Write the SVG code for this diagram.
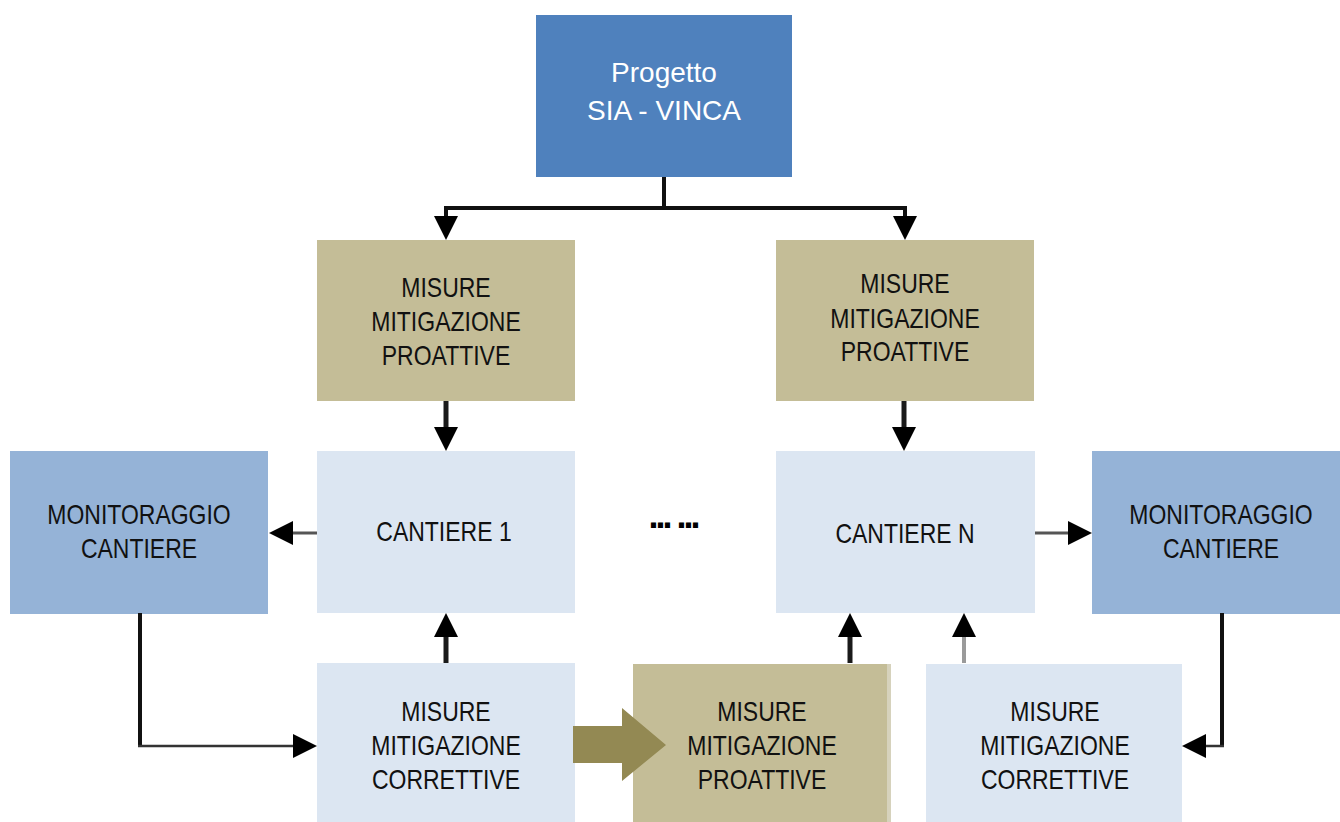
<svg xmlns="http://www.w3.org/2000/svg" width="1340" height="822" viewBox="0 0 1340 822">
<style>
  .t { font-family: "Liberation Sans", Arial, sans-serif; font-size: 23px; fill: #111; text-anchor: middle; }
  .w { font-family: "Liberation Sans", Arial, sans-serif; font-size: 28px; fill: #fff; text-anchor: middle; }
  .blue { fill: #4f81bd; }
  .tan { fill: #c4bd97; }
  .light { fill: #dce6f2; }
  .mid { fill: #95b3d7; }
  .c { fill: none; stroke-linecap: butt; stroke-linejoin: miter; }
  .k5 { stroke: #1a1a1a; stroke-width: 5; }
  .k4 { stroke: #111; stroke-width: 4; }
  .g3 { stroke: #555; stroke-width: 3; }
  .g2 { stroke: #333; stroke-width: 2.5; }
  .gr { stroke: #9a9a9a; stroke-width: 4; }
</style>
<defs>
  <marker id="ah" viewBox="0 0 24 24" refX="0" refY="12" markerWidth="24" markerHeight="24" markerUnits="userSpaceOnUse" orient="auto">
    <path d="M0,0 L24,12 L0,24 Z" fill="#000"/>
  </marker>
</defs>
<rect width="1340" height="822" fill="#fff"/>

<g id="progetto">
  <rect class="blue" x="536" y="15" width="256" height="162"/>
  <text class="w" x="664" y="82">Progetto</text>
  <text class="w" x="664" y="120">SIA - VINCA</text>
</g>

<g id="misure-proattive-1">
  <rect class="tan" x="317" y="240" width="258" height="161"/>
  <text class="t" transform="translate(446,297) scale(1,1.18)">MISURE</text>
  <text class="t" transform="translate(446,331) scale(1,1.18)">MITIGAZIONE</text>
  <text class="t" transform="translate(446,365) scale(1,1.18)">PROATTIVE</text>
</g>

<g id="misure-proattive-n">
  <rect class="tan" x="776" y="240" width="258" height="161"/>
  <text class="t" transform="translate(905,293) scale(1,1.18)">MISURE</text>
  <text class="t" transform="translate(905,328) scale(1,1.18)">MITIGAZIONE</text>
  <text class="t" transform="translate(905,361) scale(1,1.18)">PROATTIVE</text>
</g>

<g id="monitoraggio-1">
  <rect class="mid" x="10" y="451" width="258" height="163"/>
  <text class="t" transform="translate(139,524) scale(1,1.18)">MONITORAGGIO</text>
  <text class="t" transform="translate(139,558) scale(1,1.18)">CANTIERE</text>
</g>

<g id="cantiere-1">
  <rect class="light" x="317" y="451" width="258" height="162"/>
  <text class="t" transform="translate(444,541) scale(1,1.18)">CANTIERE 1</text>
</g>

<g id="ellipsis">
  <text x="673" y="528" style="font-family:'Liberation Sans',Arial,sans-serif;font-size:36px;font-weight:bold;fill:#000;text-anchor:middle;letter-spacing:-3px">... ...</text>
</g>

<g id="cantiere-n">
  <rect class="light" x="776" y="451" width="259" height="162"/>
  <text class="t" transform="translate(905,543) scale(1,1.18)">CANTIERE N</text>
</g>

<g id="monitoraggio-n">
  <rect class="mid" x="1092" y="451" width="248" height="163"/>
  <text class="t" transform="translate(1221,524) scale(1,1.18)">MONITORAGGIO</text>
  <text class="t" transform="translate(1221,558) scale(1,1.18)">CANTIERE</text>
</g>

<g id="misure-correttive-1">
  <rect class="light" x="317" y="663" width="258" height="159"/>
  <text class="t" transform="translate(446,721) scale(1,1.18)">MISURE</text>
  <text class="t" transform="translate(446,755) scale(1,1.18)">MITIGAZIONE</text>
  <text class="t" transform="translate(446,789) scale(1,1.18)">CORRETTIVE</text>
</g>

<g id="misure-proattive-bottom">
  <rect class="tan" x="633" y="664" width="258" height="158"/>
  <rect x="887" y="664" width="4" height="158" fill="#d6d2bc"/>
  <text class="t" transform="translate(762,721) scale(1,1.18)">MISURE</text>
  <text class="t" transform="translate(762,755) scale(1,1.18)">MITIGAZIONE</text>
  <text class="t" transform="translate(762,789) scale(1,1.18)">PROATTIVE</text>
</g>

<g id="misure-correttive-n">
  <rect class="light" x="926" y="664" width="256" height="158"/>
  <text class="t" transform="translate(1055,721) scale(1,1.18)">MISURE</text>
  <text class="t" transform="translate(1055,755) scale(1,1.18)">MITIGAZIONE</text>
  <text class="t" transform="translate(1055,789) scale(1,1.18)">CORRETTIVE</text>
</g>

<g id="connectors">
  <path class="c k4" d="M664,177 V208"/>
  <path class="c k4" d="M444,208 H907"/>
  <path class="c k4" d="M446,208 V216" marker-end="url(#ah)"/>
  <path class="c k4" d="M905,208 V216" marker-end="url(#ah)"/>
  <path class="c k5" d="M446,401 V427" marker-end="url(#ah)"/>
  <path class="c k5" d="M904,401 V427" marker-end="url(#ah)"/>
  <path class="c g3" d="M317,533 H293" marker-end="url(#ah)"/>
  <path class="c g3" d="M1035,533 H1068" marker-end="url(#ah)"/>
  <path class="c k4" d="M140,613 V746"/>
  <path class="c g2" d="M138,746 H293" marker-end="url(#ah)"/>
  <path class="c k4" d="M1222,613 V746"/>
  <path class="c g2" d="M1224,746 H1206" marker-end="url(#ah)"/>
  <path class="c k5" d="M446,663 V637" marker-end="url(#ah)"/>
  <path class="c k5" d="M850,663 V637" marker-end="url(#ah)"/>
  <path class="c gr" d="M964,663 V637" marker-end="url(#ah)"/>
  <polygon points="573,726 622,726 622,708 666,745 622,781 622,763 573,763" fill="#938953"/>
</g>
</svg>
